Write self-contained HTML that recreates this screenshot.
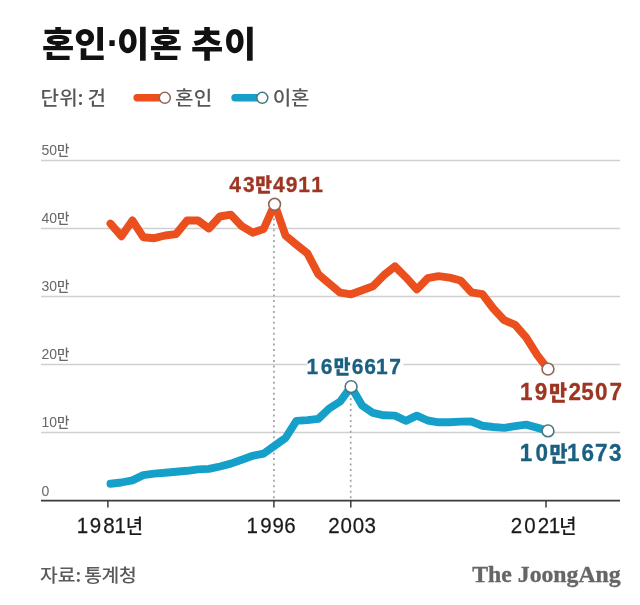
<!DOCTYPE html>
<html><head><meta charset="utf-8"><style>
html,body{margin:0;padding:0;background:#fff;}
body{width:640px;height:605px;overflow:hidden;}
svg{display:block;}
text{font-family:'Liberation Sans', 'Noto Sans CJK KR', sans-serif;}
.yl{font-size:14px;fill:#676767;}
.yk{font-family:'Noto Sans CJK KR', 'Liberation Sans', sans-serif;font-size:13.5px;font-weight:500;}
</style></head><body>
<svg width="640" height="605" viewBox="0 0 640 605">
<rect width="640" height="605" fill="#fff"/>
<text y="57" fill="#111"><tspan x="41.92 74.28" y="57" style="font-family:'Noto Sans CJK KR', 'Liberation Sans', sans-serif;font-weight:900;font-size:35px">혼인</tspan><tspan x="106.71" y="56.2" style="font-family:'Liberation Sans', 'Noto Sans CJK KR', sans-serif;font-weight:700;font-size:38px">·</tspan><tspan x="116.94 149.72" y="57" style="font-family:'Noto Sans CJK KR', 'Liberation Sans', sans-serif;font-weight:900;font-size:35px">이혼</tspan> <tspan x="191.08 224.03" y="57" style="font-family:'Noto Sans CJK KR', 'Liberation Sans', sans-serif;font-weight:900;font-size:35px">추이</tspan></text>

<text y="104.7" fill="#575757" transform="scale(1.06,1)"><tspan x="38.11 55.86" y="104.7" style="font-family:'Noto Sans CJK KR', 'Liberation Sans', sans-serif;font-weight:500;font-size:19px">단위</tspan><tspan x="73.10" y="104.7" style="font-family:'Noto Sans CJK KR', 'Liberation Sans', sans-serif;font-weight:500;font-size:19px">:</tspan> <tspan x="82.55" y="104.7" style="font-family:'Noto Sans CJK KR', 'Liberation Sans', sans-serif;font-weight:500;font-size:19px">건</tspan></text>
<text y="104.7" fill="#575757" transform="scale(1.06,1)"><tspan x="165.01 182.70" y="104.7" style="font-family:'Noto Sans CJK KR', 'Liberation Sans', sans-serif;font-weight:500;font-size:19px">혼인</tspan></text>
<text y="104.7" fill="#575757" transform="scale(1.06,1)"><tspan x="257.36 274.53" y="104.7" style="font-family:'Noto Sans CJK KR', 'Liberation Sans', sans-serif;font-weight:500;font-size:19px">이혼</tspan></text>

<line x1="137.1" y1="97.8" x2="160" y2="97.8" stroke="#ec4f1e" stroke-width="7.4" stroke-linecap="round"/>
<circle cx="164.8" cy="97.8" r="5.5" fill="#fff" stroke="#8f6658" stroke-width="1.5"/>
<line x1="235" y1="97.8" x2="257" y2="97.8" stroke="#15a0ca" stroke-width="7.4" stroke-linecap="round"/>
<circle cx="262.3" cy="97.8" r="5.5" fill="#fff" stroke="#467884" stroke-width="1.5"/>
<line x1="41" y1="160.5" x2="620" y2="160.5" stroke="#d0d0d0" stroke-width="1.5"/>
<text x="41.5" y="155.4" class="yl">50<tspan class="yk">만</tspan></text>
<line x1="41" y1="228.5" x2="620" y2="228.5" stroke="#d0d0d0" stroke-width="1.5"/>
<text x="41.5" y="223.4" class="yl">40<tspan class="yk">만</tspan></text>
<line x1="41" y1="296.5" x2="620" y2="296.5" stroke="#d0d0d0" stroke-width="1.5"/>
<text x="41.5" y="291.4" class="yl">30<tspan class="yk">만</tspan></text>
<line x1="41" y1="364.5" x2="620" y2="364.5" stroke="#d0d0d0" stroke-width="1.5"/>
<text x="41.5" y="359.4" class="yl">20<tspan class="yk">만</tspan></text>
<line x1="41" y1="432.5" x2="620" y2="432.5" stroke="#d0d0d0" stroke-width="1.5"/>
<text x="41.5" y="427.4" class="yl">10<tspan class="yk">만</tspan></text>

<text x="41.5" y="496" class="yl">0</text>
<line x1="273.9" y1="212.8" x2="273.9" y2="500" stroke="#a3a3a3" stroke-width="1.7" stroke-dasharray="2 3.45"/>
<line x1="350.7" y1="392.65" x2="350.7" y2="500" stroke="#a3a3a3" stroke-width="1.7" stroke-dasharray="2 3.45"/>
<polyline points="110.5,483.7 121.4,482.5 132.4,480.3 143.3,475.2 154.2,473.6 165.2,472.8 176.1,471.8 187.1,470.8 198.0,469.4 208.9,468.9 219.9,466.5 230.8,463.6 241.8,459.7 252.7,455.8 263.6,453.6 274.6,445.7 285.5,438.0 296.4,420.9 307.4,420.1 318.3,418.8 329.2,408.5 340.2,401.5 351.1,386.7 362.1,405.5 373.0,412.9 383.9,415.3 394.9,415.6 405.8,420.8 416.8,415.7 427.7,420.5 438.6,422.3 449.6,422.3 460.5,421.6 471.4,421.5 482.4,425.8 493.3,427.0 504.2,427.9 515.2,426.1 526.1,424.6 537.1,427.6 548.0,430.9" fill="none" stroke="#15a0ca" stroke-width="7.9" stroke-linejoin="round" stroke-linecap="round"/>
<polyline points="110.5,223.6 121.4,236.2 132.4,220.5 143.3,237.2 154.2,238.2 165.2,235.5 176.1,234.1 187.1,220.5 198.0,220.5 208.9,228.5 219.9,216.5 230.8,214.6 241.8,226.2 252.7,232.7 263.6,229.0 274.6,204.3 285.5,235.5 296.4,244.6 307.4,253.4 318.3,274.2 329.2,283.5 340.2,292.7 351.1,294.3 362.1,290.2 373.0,286.3 383.9,275.2 394.9,266.4 405.8,277.2 416.8,289.4 427.7,278.2 438.6,276.2 449.6,277.6 460.5,280.5 471.4,292.3 482.4,294.1 493.3,308.5 504.2,320.2 515.2,324.8 526.1,337.4 537.1,354.8 548.0,369.1" fill="none" stroke="#ec4f1e" stroke-width="7.9" stroke-linejoin="round" stroke-linecap="round"/>
<line x1="41" y1="500.6" x2="620" y2="500.6" stroke="#3a3a3a" stroke-width="1.8"/>
<line x1="107.9" y1="500" x2="107.9" y2="507.5" stroke="#3a3a3a" stroke-width="1.5"/>
<line x1="273.9" y1="500" x2="273.9" y2="507.5" stroke="#3a3a3a" stroke-width="1.5"/>
<line x1="350.8" y1="500" x2="350.8" y2="507.5" stroke="#3a3a3a" stroke-width="1.5"/>
<line x1="546" y1="500" x2="546" y2="507.5" stroke="#3a3a3a" stroke-width="1.5"/>
<circle cx="274.6" cy="204.3" r="5.9" fill="#fff" stroke="#8f6658" stroke-width="1.6"/>
<circle cx="548.0" cy="369.1" r="5.9" fill="#fff" stroke="#8f6658" stroke-width="1.6"/>
<circle cx="351.1" cy="386.7" r="5.9" fill="#fff" stroke="#467884" stroke-width="1.6"/>
<circle cx="548.0" cy="430.9" r="5.9" fill="#fff" stroke="#467884" stroke-width="1.6"/>
<rect x="307" y="356" width="96.5" height="20" fill="#fff"/>
<text y="191.6" fill="#9e3523" transform="scale(0.93,1)" stroke="#9e3523" stroke-width="0.3"><tspan x="246.40 261.23" y="191.6" style="font-family:'Liberation Sans', 'Noto Sans CJK KR', sans-serif;font-weight:700;font-size:22.6px">43</tspan><tspan x="274.59" y="191.6" style="font-family:'Noto Sans CJK KR', 'Liberation Sans', sans-serif;font-weight:900;font-size:19.5px">만</tspan><tspan x="293.61 307.35 320.79 334.72" y="191.6" style="font-family:'Liberation Sans', 'Noto Sans CJK KR', sans-serif;font-weight:700;font-size:22.6px">4911</tspan></text>
<text y="374.3" fill="#1b6080" transform="scale(0.93,1)" stroke="#1b6080" stroke-width="0.3"><tspan x="329.45 344.95" y="374.3" style="font-family:'Liberation Sans', 'Noto Sans CJK KR', sans-serif;font-weight:700;font-size:22.6px">16</tspan><tspan x="358.78" y="374.3" style="font-family:'Noto Sans CJK KR', 'Liberation Sans', sans-serif;font-weight:900;font-size:19.5px">만</tspan><tspan x="378.12 391.67 404.29 418.67" y="374.3" style="font-family:'Liberation Sans', 'Noto Sans CJK KR', sans-serif;font-weight:700;font-size:22.6px">6617</tspan></text>
<text y="400.0" fill="#9e3523" transform="scale(0.93,1)" stroke="#9e3523" stroke-width="0.3"><tspan x="559.24 575.02" y="400.0" style="font-family:'Liberation Sans', 'Noto Sans CJK KR', sans-serif;font-weight:700;font-size:24.2px">19</tspan><tspan x="590.43" y="400.0" style="font-family:'Noto Sans CJK KR', 'Liberation Sans', sans-serif;font-weight:900;font-size:21px">만</tspan><tspan x="611.19 624.90 639.90 655.49" y="400.0" style="font-family:'Liberation Sans', 'Noto Sans CJK KR', sans-serif;font-weight:700;font-size:24.2px">2507</tspan></text>
<text y="460.8" fill="#1b6080" transform="scale(0.93,1)" stroke="#1b6080" stroke-width="0.3"><tspan x="558.97 575.76" y="460.8" style="font-family:'Liberation Sans', 'Noto Sans CJK KR', sans-serif;font-weight:700;font-size:24.2px">10</tspan><tspan x="590.76" y="460.8" style="font-family:'Noto Sans CJK KR', 'Liberation Sans', sans-serif;font-weight:900;font-size:21px">만</tspan><tspan x="609.73 625.20 639.84 654.83" y="460.8" style="font-family:'Liberation Sans', 'Noto Sans CJK KR', sans-serif;font-weight:700;font-size:24.2px">1673</tspan></text>

<text y="532.8" fill="#1a1a1a" transform="scale(0.92,1)"><tspan x="83.55 97.61 112.28 124.53" y="532.8" stroke="#1a1a1a" stroke-width="0.25" style="font-family:'Liberation Sans', 'Noto Sans CJK KR', sans-serif;font-weight:400;font-size:22.3px">1981</tspan><tspan x="136.56" y="533.6" style="font-family:'Noto Sans CJK KR', 'Liberation Sans', sans-serif;font-weight:500;font-size:20.5px">년</tspan></text>
<text y="532.8" fill="#1a1a1a" transform="scale(0.92,1)"><tspan x="267.95 282.83 296.09 309.10" y="532.8" stroke="#1a1a1a" stroke-width="0.25" style="font-family:'Liberation Sans', 'Noto Sans CJK KR', sans-serif;font-weight:400;font-size:22.3px">1996</tspan></text>
<text y="532.8" fill="#1a1a1a" transform="scale(0.92,1)"><tspan x="356.90 369.99 383.53 396.20" y="532.8" stroke="#1a1a1a" stroke-width="0.25" style="font-family:'Liberation Sans', 'Noto Sans CJK KR', sans-serif;font-weight:400;font-size:22.3px">2003</tspan></text>
<text y="532.8" fill="#1a1a1a" transform="scale(0.92,1)"><tspan x="555.10 569.78 584.45 596.37" y="532.8" stroke="#1a1a1a" stroke-width="0.25" style="font-family:'Liberation Sans', 'Noto Sans CJK KR', sans-serif;font-weight:400;font-size:22.3px">2021</tspan><tspan x="607.76" y="533.6" style="font-family:'Noto Sans CJK KR', 'Liberation Sans', sans-serif;font-weight:500;font-size:20.5px">년</tspan></text>

<text y="582.1" fill="#5a5a5a" transform="scale(1.07,1)"><tspan x="37.33 54.06" y="582.1" style="font-family:'Noto Sans CJK KR', 'Liberation Sans', sans-serif;font-weight:500;font-size:18px">자료</tspan><tspan x="70.58" y="582.1" style="font-family:'Noto Sans CJK KR', 'Liberation Sans', sans-serif;font-weight:500;font-size:18px">:</tspan> <tspan x="78.77 94.81 111.13" y="582.1" style="font-family:'Noto Sans CJK KR', 'Liberation Sans', sans-serif;font-weight:500;font-size:18px">통계청</tspan></text>

<text x="472.3" y="581.5" textLength="148.3" lengthAdjust="spacingAndGlyphs" style="font-family:'Liberation Serif', serif;font-size:23.5px;font-weight:bold;fill:#666;stroke:#666;stroke-width:0.35px;">The JoongAng</text>
</svg>
</body></html>
